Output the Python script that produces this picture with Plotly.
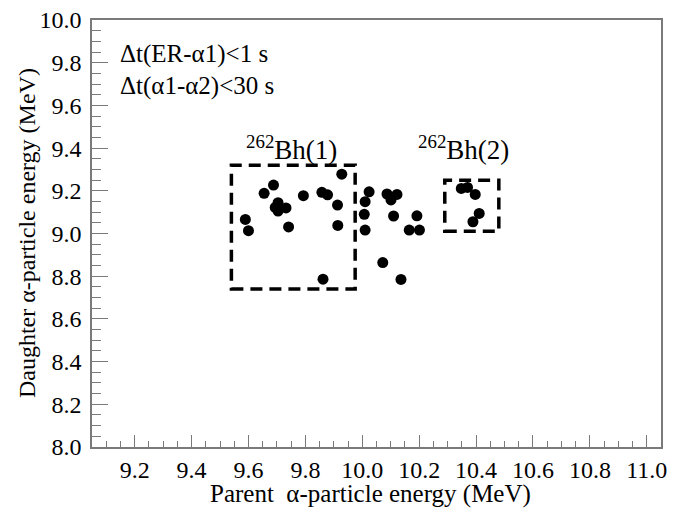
import plotly.graph_objects as go

# Parent / daughter alpha energies (MeV)
parent_energy = [
    9.928, 9.688, 9.655, 9.793, 9.858, 9.878, 9.913, 9.704, 9.694, 9.704,
    9.732, 9.589, 9.600, 9.741, 9.914, 9.862,
    10.024, 10.010, 10.087, 10.122, 10.101, 10.007, 10.110, 10.192, 10.010,
    10.165, 10.201, 10.072, 10.136,
    10.348, 10.370, 10.397, 10.411, 10.389,
]
daughter_energy = [
    9.278, 9.227, 9.188, 9.177, 9.193, 9.181, 9.133, 9.144, 9.122, 9.105,
    9.120, 9.066, 9.013, 9.031, 9.038, 8.786,
    9.195, 9.149, 9.185, 9.183, 9.157, 9.090, 9.082, 9.083, 9.016,
    9.016, 9.016, 8.864, 8.785,
    9.211, 9.216, 9.183, 9.094, 9.055,
]

# Selection windows [x0, x1, y0, y1]
bh1_window = [9.54, 9.975, 8.74, 9.32]
bh2_window = [10.29, 10.48, 9.01, 9.25]

x_ticks = [9.2, 9.4, 9.6, 9.8, 10.0, 10.2, 10.4, 10.6, 10.8, 11.0]
y_ticks = [8.0, 8.2, 8.4, 8.6, 8.8, 9.0, 9.2, 9.4, 9.6, 9.8, 10.0]

FONT = "Liberation Serif, Times New Roman, serif"
AXC = "#7a7a7a"

fig = go.Figure()
fig.add_trace(go.Scatter(
    x=parent_energy, y=daughter_energy, mode="markers",
    marker=dict(color="black", size=11, line=dict(width=0)),
    showlegend=False, hoverinfo="skip",
))

for w in (bh1_window, bh2_window):
    fig.add_shape(type="rect", xref="x", yref="y",
                  x0=w[0], x1=w[1], y0=w[2], y1=w[3],
                  line=dict(color="black", width=3.5, dash="12px,7px"))

fig.add_annotation(x=9.14, y=9.84, xref="x", yref="y", xanchor="left",
                   yanchor="middle", showarrow=False,
                   text="\u0394t(ER-\u03b11)<1 s",
                   font=dict(family=FONT, size=25, color="black"))
fig.add_annotation(x=9.14, y=9.69, xref="x", yref="y", xanchor="left",
                   yanchor="middle", showarrow=False,
                   text="\u0394t(\u03b11-\u03b12)<30 s",
                   font=dict(family=FONT, size=25, color="black"))
fig.add_annotation(x=9.75, y=9.40, xref="x", yref="y", xanchor="center",
                   yanchor="middle", showarrow=False,
                   text="<sup>262</sup>Bh(1)",
                   font=dict(family=FONT, size=27, color="black"))
fig.add_annotation(x=10.355, y=9.40, xref="x", yref="y", xanchor="center",
                   yanchor="middle", showarrow=False,
                   text="<sup>262</sup>Bh(2)",
                   font=dict(family=FONT, size=27, color="black"))

# Axis titles
fig.add_annotation(x=0.49, y=-0.11, xref="paper", yref="paper",
                   xanchor="center", yanchor="middle", showarrow=False,
                   text="Parent\u2002\u03b1-particle energy (MeV)",
                   font=dict(family=FONT, size=25, color="black"))
fig.add_annotation(x=-0.115, y=0.5, xref="paper", yref="paper",
                   xanchor="center", yanchor="middle", showarrow=False,
                   textangle=-90,
                   text="Daughter \u03b1-particle energy (MeV)",
                   font=dict(family=FONT, size=24, color="black"))

fig.update_xaxes(
    range=[9.05, 11.05], tickvals=x_ticks,
    ticktext=[f"{v:.1f}" for v in x_ticks],
    ticks="inside", ticklen=12, tickwidth=1, tickcolor=AXC,
    minor=dict(dtick=0.05, tick0=9.0, ticks="inside", ticklen=6,
               tickcolor=AXC, tickwidth=1, showgrid=False),
    showline=True, linecolor=AXC, linewidth=1.5, mirror=True,
    showgrid=False, zeroline=False, automargin=False,
    ticklabeloverflow="allow",
    tickfont=dict(family=FONT, size=24, color="black"),
)
fig.update_yaxes(
    range=[8.0, 10.0], tickvals=y_ticks,
    ticktext=[f"{v:.1f}" for v in y_ticks],
    ticks="inside", ticklen=16, tickwidth=1, tickcolor=AXC,
    minor=dict(dtick=0.05, tick0=8.0, ticks="inside", ticklen=9,
               tickcolor=AXC, tickwidth=1, showgrid=False),
    showline=True, linecolor=AXC, linewidth=1.5, mirror=True,
    showgrid=False, zeroline=False, automargin=False,
    ticklabeloverflow="allow", ticklabelstandoff=4,
    tickfont=dict(family=FONT, size=24, color="black"),
)

# The page has an 8px body margin, so the figure is sized to fit inside it.
fig.update_layout(
    width=688, height=500, autosize=False,
    margin=dict(l=84, r=35, t=12, b=61),
    plot_bgcolor="white", paper_bgcolor="white",
)

fig.write_html("out.html")
